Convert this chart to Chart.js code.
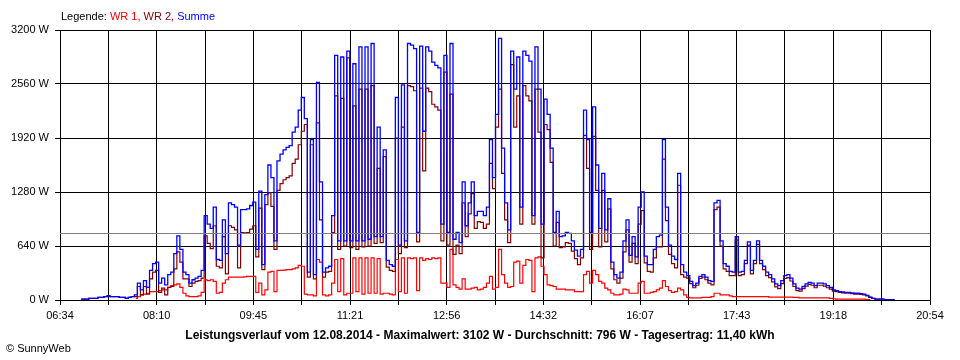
<!DOCTYPE html>
<html>
<head>
<meta charset="utf-8">
<script src="https://cdn.jsdelivr.net/npm/chart.js@4/dist/chart.umd.min.js"></script>
<style>
  html, body { margin: 0; padding: 0; background: #fff; }
  canvas { display: block; }
</style>
</head>
<body>
<canvas id="myChart" width="960" height="360"></canvas>
<script>
// minutes since midnight, one reading every 3 minutes
let startMinute = 406;
let stepMinutes = 3;
let axisStart = 394;   // 06:34
let axisEnd = 1254;    // 20:54
let average = 796;

let summe = [null,null,null,10,10,10,20,20,20,30,
  30,40,50,40,40,40,30,30,20,30,
  40,60,200,120,230,150,350,430,450,200,
  260,180,300,330,550,760,600,330,300,200,
  240,260,280,350,1000,900,850,1100,480,470,
  950,550,1150,1130,1100,650,1070,1070,1080,1120,
  1160,600,1290,420,1250,1600,1450,700,1650,1730,
  1780,1810,1830,1990,2050,2250,2400,2150,330,1900,
  300,2580,1400,330,380,400,1000,2900,700,2880,
  700,2950,700,2800,700,3000,700,3000,720,3040,
  750,2050,750,1780,470,420,400,2400,650,2550,
  700,3040,3020,2980,800,3010,2000,3000,2950,2820,
  2780,2750,900,2900,800,3040,720,800,680,1400,
  880,1150,1400,1000,1050,1050,1000,1100,1900,1450,
  2200,3100,1800,1150,830,2950,2500,2880,1100,2950,
  2900,2830,1000,3000,2500,900,2380,2200,1800,800,
  1050,750,760,800,790,700,590,520,600,2250,
  1900,800,2290,1600,850,1500,830,1200,450,300,
  260,330,700,950,530,750,510,1100,1280,520,
  420,420,600,750,770,1900,1100,650,520,480,
  1500,420,330,290,220,170,200,280,300,270,
  230,220,1150,1180,700,430,400,340,330,750,
  330,340,470,690,350,470,700,470,400,330,
  300,250,190,170,230,290,300,260,190,140,
  130,160,190,210,200,170,200,200,190,170,
  150,120,110,100,95,90,90,85,80,80,
  75,70,55,35,20,10,10,10,5,5,
  5,5];

let wr1 = [null,null,null,null,null,null,null,null,null,null,
  null,null,null,null,null,null,null,null,null,null,
  null,20,40,60,70,80,100,100,100,110,
  120,120,150,170,180,190,150,80,50,40,
  40,40,50,90,240,230,240,220,80,90,
  200,240,270,270,270,270,270,275,280,280,
  280,90,200,60,120,330,340,100,350,350,
  355,360,360,370,380,410,400,70,60,60,
  50,480,450,60,50,60,200,480,100,490,
  60,80,80,500,100,500,70,500,80,500,
  80,490,70,80,80,70,60,480,100,500,
  80,500,490,500,110,500,470,490,480,500,
  490,500,200,200,150,600,180,150,130,250,
  130,130,140,150,120,130,150,200,280,130,
  150,600,300,200,150,160,450,460,200,410,
  480,470,100,500,510,400,300,180,170,160,
  130,130,130,120,120,120,100,100,100,300,
  340,200,350,300,220,200,140,120,80,60,
  60,70,130,120,80,80,80,200,220,80,
  80,90,100,120,140,230,160,110,90,100,
  140,120,60,30,25,25,25,25,30,30,
  30,40,80,80,60,60,60,50,40,40,
  40,40,40,40,40,40,40,40,40,40,
  35,35,35,35,35,35,35,35,30,30,
  25,25,25,25,25,25,25,25,25,25,
  20,15,10,10,10,10,10,10,10,10,
  10,10,5,5,null,null,null,null,null,null,
  null,null];

let wr2 = [null,null,null,10,10,10,20,20,20,30,
  30,40,50,40,40,40,30,30,20,30,
  40,40,160,60,160,70,250,330,350,90,
  140,60,150,160,370,570,450,250,250,160,
  200,220,230,260,760,670,610,880,400,380,
  750,310,880,860,830,380,800,795,800,840,
  880,510,1090,360,1130,1270,1110,600,1300,1380,
  1425,1450,1470,1620,1670,1840,2000,2080,270,1840,
  250,2100,950,270,330,340,800,2420,600,2390,
  640,2870,620,2300,600,2500,630,2500,640,2540,
  670,1560,680,1700,390,350,340,1920,550,2050,
  620,2540,2530,2480,690,2510,1530,2510,2470,2320,
  2290,2250,700,2700,650,2440,540,650,550,1150,
  750,1020,1260,850,930,920,850,900,1620,1320,
  2050,2500,1500,950,680,2790,2050,2420,900,2540,
  2420,2360,900,2500,1990,500,2080,2020,1630,640,
  920,620,630,680,670,580,490,420,500,1950,
  1560,600,1940,1300,630,1300,690,1080,370,240,
  200,260,570,830,450,670,430,900,1060,440,
  340,330,500,630,630,1670,940,540,430,380,
  1360,300,270,260,195,145,175,255,270,240,
  200,180,1070,1100,640,370,340,290,290,710,
  290,300,430,650,310,430,660,430,360,290,
  265,215,155,135,195,255,265,225,160,110,
  105,135,165,185,175,145,175,175,165,145,
  130,105,100,90,85,80,80,75,70,70,
  65,60,50,30,20,10,10,10,5,5,
  5,5];

let seriesNames = ['WR 1', 'WR 2', 'Summe'];
let seriesColors = ['#ff0000', '#800000', '#0000ff'];
let titleText = 'Leistungsverlauf vom 12.08.2014 - Maximalwert: 3102 W - Durchschnitt: 796 W - Tagesertrag: 11,40 kWh';

function toPoints(values) {
  return values.map((v, i) => ({ x: startMinute + i * stepMinutes, y: v }));
}

function fmtTime(m) {
  m = Math.round(m);
  let h = Math.floor(m / 60);
  let mm = m % 60;
  return (h < 10 ? '0' : '') + h + ':' + (mm < 10 ? '0' : '') + mm;
}

let font = '"Liberation Sans", Arial, sans-serif';

let extras = {
  id: 'extras',
  afterDraw(chart) {
    let ctx = chart.ctx;
    let area = chart.chartArea;
    let ay = Math.round(chart.scales.y.getPixelForValue(average)) + 0.5;
    ctx.save();
    ctx.strokeStyle = '#808080';
    ctx.lineWidth = 1;
    ctx.beginPath();
    ctx.moveTo(area.left, ay);
    ctx.lineTo(area.right, ay);
    ctx.stroke();

    // legend line at the top
    ctx.font = '11px ' + font;
    ctx.textBaseline = 'middle';
    ctx.textAlign = 'left';
    let parts = [['Legende: ', '#000000']];
    seriesNames.forEach((n, i) => {
      parts.push([n + (i < seriesNames.length - 1 ? ', ' : ''), seriesColors[i]]);
    });
    let x = 61;
    parts.forEach(p => {
      ctx.fillStyle = p[1];
      ctx.fillText(p[0], x, 17);
      x += ctx.measureText(p[0]).width;
    });

    // title and footer
    ctx.fillStyle = '#000000';
    ctx.font = 'bold 12px ' + font;
    ctx.textAlign = 'center';
    ctx.fillText(titleText, 480, 336);
    ctx.font = '11px ' + font;
    ctx.textAlign = 'left';
    ctx.fillText('\u00A9 SunnyWeb', 6, 349);
    ctx.restore();
  }
};

let ctx = document.getElementById('myChart').getContext('2d');

let myChart = new Chart(ctx, {
  type: 'line',
  data: {
    datasets: [
      { label: seriesNames[0], data: toPoints(wr1), borderColor: seriesColors[0], order: 3 },
      { label: seriesNames[1], data: toPoints(wr2), borderColor: seriesColors[1], order: 2 },
      { label: seriesNames[2], data: toPoints(summe), borderColor: seriesColors[2], order: 1, borderWidth: 1.3 }
    ]
  },
  options: {
    responsive: false,
    animation: false,
    layout: { padding: { top: 30, right: 30, left: 0, bottom: 0 } },
    elements: {
      point: { radius: 0 },
      line: { borderWidth: 1.2, tension: 0, stepped: 'middle' }
    },
    plugins: {
      legend: { display: false },
      tooltip: { enabled: false }
    },
    scales: {
      x: {
        type: 'linear',
        min: axisStart,
        max: axisEnd,
        z: 1,
        afterBuildTicks: (scale) => {
          let ticks = [];
          for (let k = 0; k <= 18; k++) ticks.push({ value: axisStart + k * (axisEnd - axisStart) / 18 });
          scale.ticks = ticks;
        },
        afterFit: (scale) => { scale.height = 60; },
        grid: { color: '#000000', tickLength: 5, tickColor: '#000000' },
        border: { color: '#000000' },
        ticks: {
          autoSkip: false,
          maxRotation: 0,
          padding: 4,
          color: '#000000',
          font: { family: font, size: 11 },
          callback: (value, index) => index % 2 === 0 ? fmtTime(value) : ''
        }
      },
      y: {
        min: 0,
        max: 3200,
        z: 1,
        afterFit: (scale) => { scale.width = 60; },
        grid: { color: '#000000', tickLength: 5, tickColor: '#000000' },
        border: { color: '#000000' },
        ticks: {
          stepSize: 640,
          padding: 6,
          color: '#000000',
          font: { family: font, size: 11 },
          callback: (value) => value + ' W'
        }
      }
    }
  },
  plugins: [extras]
});
</script>
</body>
</html>
